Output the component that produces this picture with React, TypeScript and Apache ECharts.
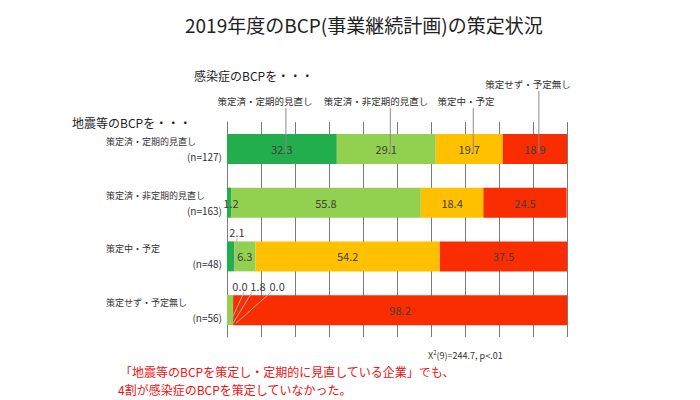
import React, { useEffect, useRef } from "react";
import * as echarts from "echarts";

const categories = ["策定済・定期的見直し", "策定済・非定期的見直し", "策定中・予定", "策定せず・予定無し"];
const sampleSizes = [127, 163, 48, 56];
const seriesNames = ["策定済・定期的見直し", "策定済・非定期的見直し", "策定中・予定", "策定せず・予定無し"];
const regularReview = [32.3, 1.2, 2.1, 0.0];
const irregularReview = [29.1, 55.8, 6.3, 1.8];
const planning = [19.7, 18.4, 54.2, 0.0];
const notPlanned = [18.9, 24.5, 37.5, 98.2];
const seriesValues = [regularReview, irregularReview, planning, notPlanned];
const colors = ["#22AE4C", "#92D050", "#FFC000", "#FA2D00"];
const titleText = "2019年度のBCP(事業継続計画)の策定状況";
const infectionLabel = "感染症のBCPを・・・";
const quakeLabel = "地震等のBCPを・・・";
const statText = "X{sup|2}(9)=244.7, p<.01";
const noteLines = ["「地震等のBCPを策定し・定期的に見直している企業」でも、", "4割が感染症のBCPを策定していなかった。"];

const FONT = '"Noto Sans CJK JP", "Noto Sans", sans-serif';

// label offsets (relative to the bar rect) for small values moved outside
const movedLabels: Record<string, { dx: number; dy: number }> = {
  "0-2": { dx: 10, dy: -9 },
  "0-3": { dx: 13, dy: -9 },
  "1-3": { dx: 31, dy: -9 },
  "2-3": { dx: 44, dy: -9 },
  "0-1": { dx: 4, dy: 15 },
};
// leader lines: [series, row, label offset x]
const leaderLines: [number, number, number][] = [
  [0, 2, 0],
  [0, 3, 4],
  [1, 3, -6],
  [2, 3, -6],
];

export default function App() {
  const ref = useRef<HTMLDivElement>(null);
  useEffect(() => {
    if (!ref.current) return;
    const chart = echarts.init(ref.current, null, { renderer: "svg" });
    const series = seriesValues.map((vals, s) => ({
      type: "bar",
      name: seriesNames[s],
      stack: "total",
      barWidth: 30,
      itemStyle: { color: colors[s] },
      label: {
        show: true,
        position: "inside",
        color: "#404040",
        fontSize: 11,
        fontFamily: FONT,
        formatter: (p: any) => Number(p.value).toFixed(1),
      },
      data: vals,
    }));

    const option: any = {
      animation: false,
      textStyle: { fontFamily: FONT },
      title: {
        text: titleText,
        left: 180,
        top: 10,
        textStyle: { fontSize: 19, fontWeight: "normal", color: "#222", fontFamily: FONT },
      },
      grid: { left: 227, right: 133, top: 122, bottom: 63, containLabel: false },
      xAxis: {
        type: "value",
        min: 0,
        max: 100,
        interval: 10,
        axisLabel: { show: false },
        axisLine: { show: false },
        axisTick: { show: false },
        splitLine: { show: true, lineStyle: { color: "#7a7a7a", width: 1 } },
      },
      yAxis: {
        type: "category",
        inverse: true,
        data: categories,
        axisLine: { show: true, lineStyle: { color: "#7a7a7a" } },
        axisTick: { show: false },
        axisLabel: {
          margin: 5,
          formatter: (v: string, i: number) => `{a|${v}}\n{b|(n=${sampleSizes[i]})}`,
          rich: {
            a: { width: 116, align: "left", fontSize: 9, lineHeight: 15, color: "#333", fontFamily: FONT },
            b: { width: 116, align: "right", fontSize: 10, lineHeight: 15, color: "#333", fontFamily: FONT },
          },
        },
      },
      labelLayout: (p: any) => {
        const key = `${p.seriesIndex}-${p.dataIndex}`;
        const m = movedLabels[key];
        if (!m) return {};
        const r = p.rect;
        return { x: r.x + m.dx, y: r.y + m.dy, align: "center", verticalAlign: "middle" };
      },
      series,
    };
    chart.setOption(option);

    const graphics: any[] = [];
    const px = (x: number, row: number) =>
      chart.convertToPixel({ xAxisIndex: 0, yAxisIndex: 0 }, [x, categories[row]]) as number[];

    // leader lines for small labels placed above bars
    leaderLines.forEach(([s, d, off]) => {
      let start = 0;
      for (let k = 0; k < s; k++) start += seriesValues[k][d];
      const end = start + seriesValues[s][d];
      const segStart = px(start, d);
      const segEnd = px(end, d);
      const m = movedLabels[`${s}-${d}`];
      const lx = segStart[0] + m.dx + off;
      const ly = segStart[1] - 15 + m.dy + 6;
      graphics.push({
        type: "line",
        shape: { x1: lx, y1: ly, x2: Math.max(segEnd[0], segStart[0] + 3), y2: segEnd[1] + 13 },
        style: { stroke: "#b0b0b0", lineWidth: 1 },
        z: 100,
      });
    });

    // series name annotations above the first row, with leader lines
    const nameCenters = [265, 376, 466, 528];
    const nameYs = [101, 101, 101, 84];
    let cum = 0;
    seriesValues.forEach((vals, s) => {
      const mid = cum + vals[0] / 2;
      cum += vals[0];
      const pt = px(mid, 0);
      const lx = pt[0] + 4;
      graphics.push({
        type: "line",
        shape: { x1: lx, y1: nameYs[s] + 7, x2: lx, y2: pt[1] + 5 },
        style: { stroke: "#8a8a8a", lineWidth: 1 },
        z: 100,
      });
      graphics.push({
        type: "text",
        x: nameCenters[s],
        y: nameYs[s],
        style: {
          text: seriesNames[s],
          fontSize: 9.5,
          fontFamily: FONT,
          fill: "#333",
          align: "center",
          verticalAlign: "middle",
          textAlign: "center",
          textVerticalAlign: "middle",
        },
      });
    });
    graphics.push({
      type: "text",
      x: 194,
      y: 75,
      style: { text: infectionLabel, fontSize: 12, fontFamily: FONT, fill: "#222", verticalAlign: "middle", textVerticalAlign: "middle" },
    });
    graphics.push({
      type: "text",
      x: 72,
      y: 122,
      style: { text: quakeLabel, fontSize: 12, fontFamily: FONT, fill: "#222", verticalAlign: "middle", textVerticalAlign: "middle" },
    });
    graphics.push({
      type: "text",
      x: 428,
      y: 355,
      style: {
        text: statText,
        fontSize: 9,
        fontFamily: FONT,
        fill: "#333",
        verticalAlign: "middle",
        textVerticalAlign: "middle",
        rich: { sup: { fontSize: 6, verticalAlign: "top", padding: [0, 0, 5, 0], fill: "#333", fontFamily: FONT } },
      },
    });
    noteLines.forEach((t, i) => {
      graphics.push({
        type: "text",
        x: i === 0 ? 120 : 118,
        y: i === 0 ? 371 : 389,
        style: { text: t, fontSize: 12, fontFamily: FONT, fill: "#F01010", verticalAlign: "middle", textVerticalAlign: "middle" },
      });
    });
    chart.setOption({ graphic: graphics });

    return () => chart.dispose();
  }, []);
  return <div ref={ref} style={{ position: "fixed", left: 0, top: 0, width: 700, height: 400, background: "#fff" }} />;
}
